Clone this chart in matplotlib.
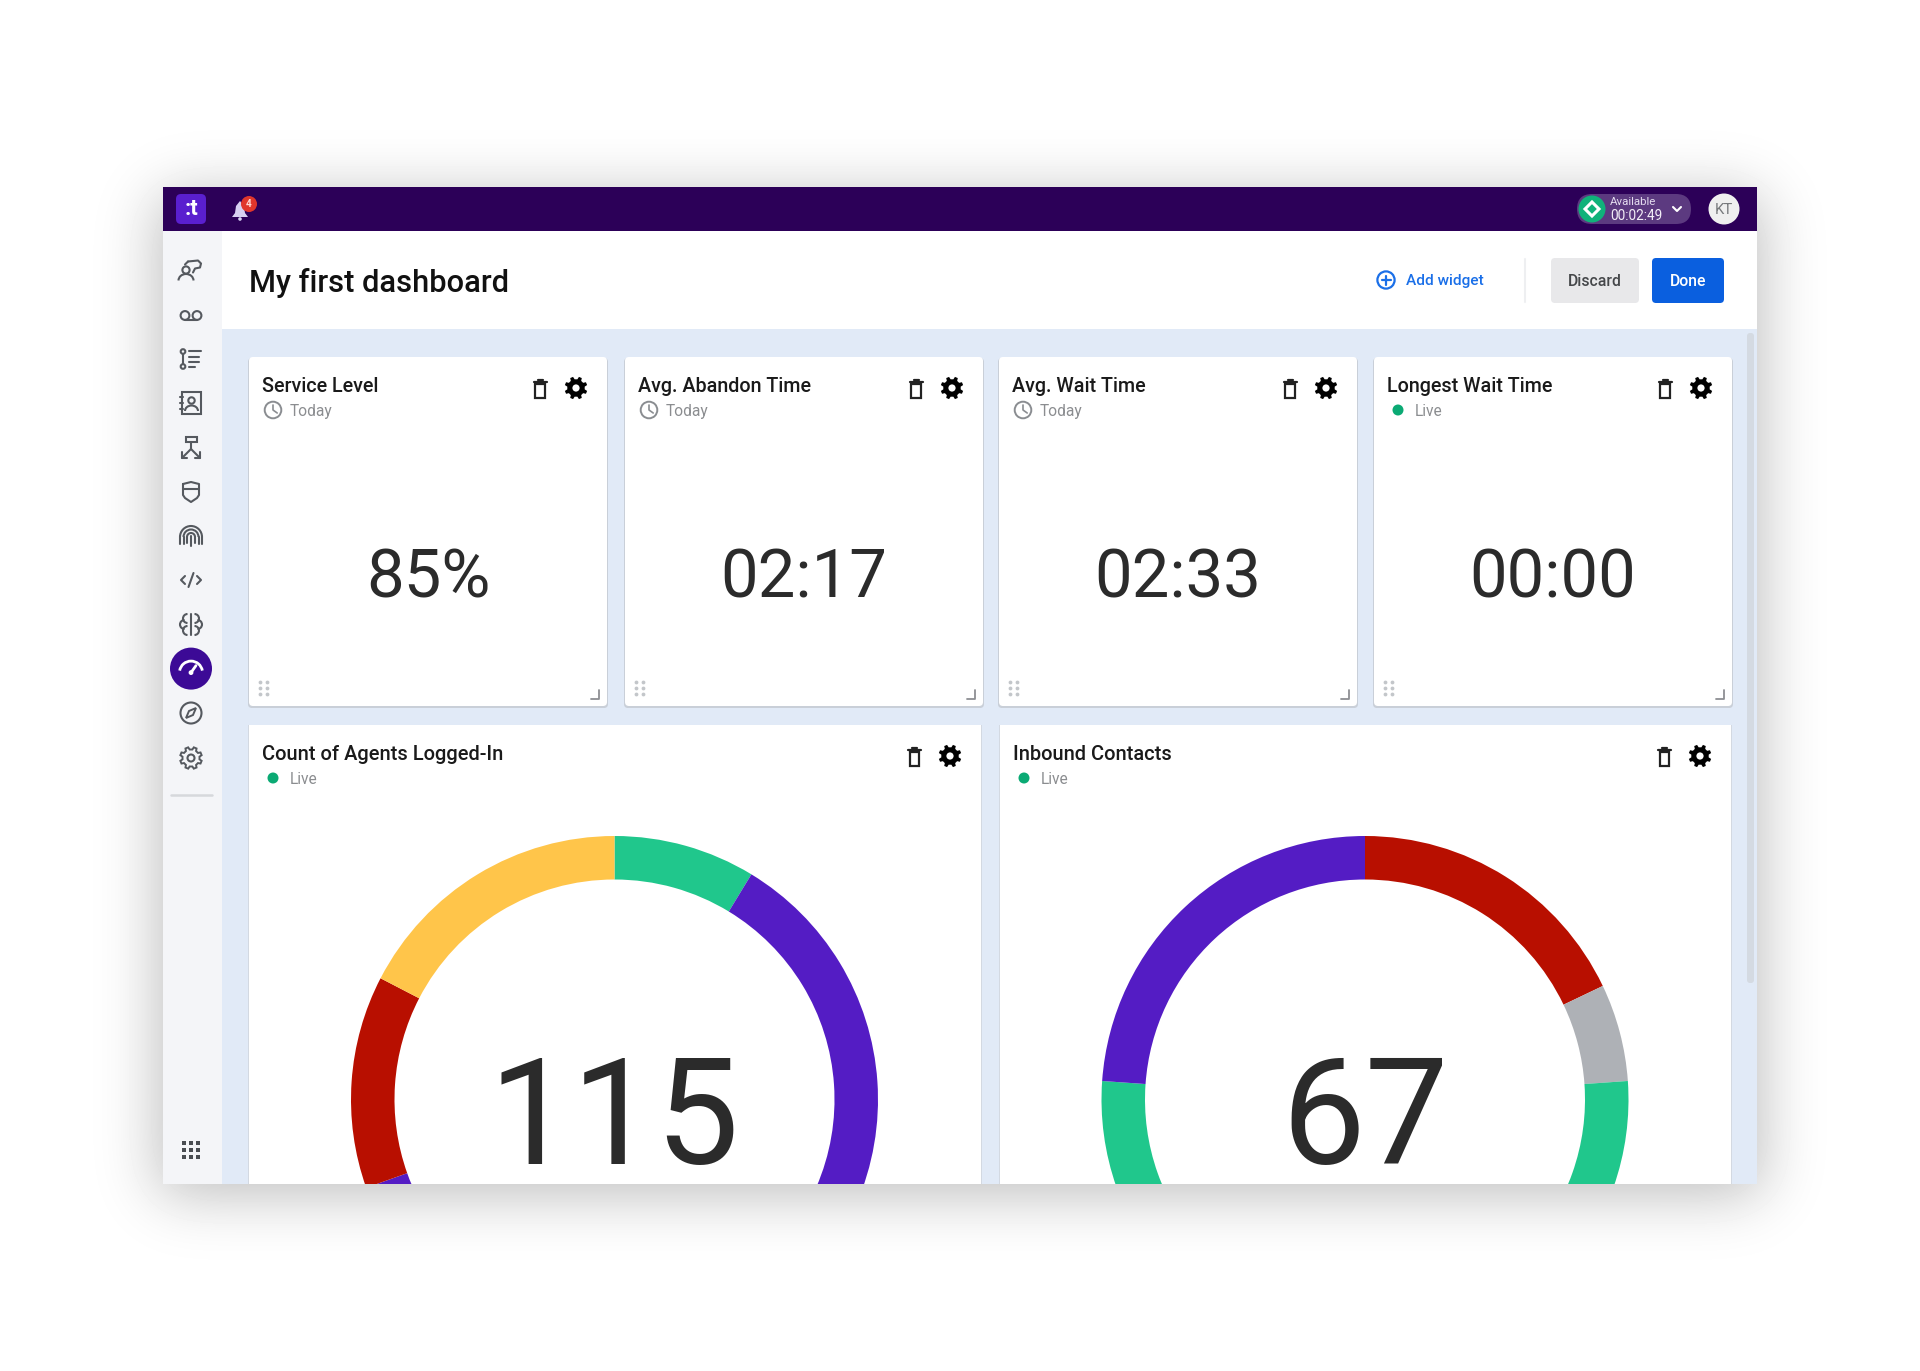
import math
import numpy as np
import matplotlib
matplotlib.use("Agg")
import matplotlib.pyplot as plt
from matplotlib.patches import FancyBboxPatch, Rectangle, Circle, Polygon, Arc

plt.rcParams['font.family'] = ['Roboto', 'DejaVu Sans']

# ---------- data ----------
page_title = "My first dashboard"
kpi_titles = ["Service Level", "Avg. Abandon Time", "Avg. Wait Time", "Longest Wait Time"]
kpi_periods = ["Today", "Today", "Today", "Live"]
kpi_values = ["85%", "02:17", "02:33", "00:00"]

agents_title = "Count of Agents Logged-In"
agents_total = "115"
agents_values = [10, 70, 15, 20]
agents_colors = ["#20C78C", "#541CC4", "#B80F00", "#FFC54A"]

contacts_title = "Inbound Contacts"
contacts_total = "67"
contacts_values = [12, 4, 35, 16]
contacts_colors = ["#B80F00", "#AEB1B6", "#20C78C", "#541CC4"]

W, H = 1920, 1371
fig = plt.figure(figsize=(W / 100, H / 100), dpi=100, facecolor="white")
ax = fig.add_axes([0, 0, 1, 1])
ax.set_xlim(0, W)
ax.set_ylim(H, 0)
ax.axis("off")


def rect(x0, y0, x1, y1, color, z=1, r=0, **kw):
    if r:
        p = FancyBboxPatch((x0, y0), x1 - x0, y1 - y0, boxstyle=f"round,pad=0,rounding_size={r}",
                           fc=color, ec="none", zorder=z, **kw)
    else:
        p = Rectangle((x0, y0), x1 - x0, y1 - y0, fc=color, ec="none", zorder=z, **kw)
    ax.add_patch(p)
    return p


def line(xs, ys, color="#55595f", lw=1.5, z=6):
    ax.plot(xs, ys, color=color, lw=lw, zorder=z, solid_capstyle="round", solid_joinstyle="round")


def ring(x, y, r, color="#55595f", lw=1.5, z=6, fc="none"):
    ax.add_patch(Circle((x, y), r, fc=fc, ec=color, lw=lw, zorder=z))


def txt(x, y, s, size, color="#111111", weight="normal", ha="left", va="center", z=7):
    ax.text(x, y, s, fontsize=size * 0.72, color=color, fontweight=weight, ha=ha, va=va, zorder=z)


def gear_pts(x, y, ro, ri, teeth=8, rot=22.5):
    pts = []
    step = 360 / teeth
    for i in range(teeth):
        a = rot + i * step
        for da, r in [(-0.30, ri), (-0.17, ro), (0.17, ro), (0.30, ri)]:
            t = math.radians(a + da * step)
            pts.append((x + r * math.cos(t), y + r * math.sin(t)))
    return pts


def gear(x, y):
    ax.add_patch(Polygon(gear_pts(x, y, 11.5, 8.8), closed=True, fc="black", ec="none", zorder=6))
    ax.add_patch(Circle((x, y), 3.6, fc="white", ec="none", zorder=7))


def trash(x, y):
    ax.add_patch(Rectangle((x - 4.6, y - 5), 9.2, 13.5, fc="none", ec="#222222", lw=1.6, zorder=6))
    line([x - 6.5, x + 6.5], [y - 6.8, y - 6.8], "#222222", 1.6)
    line([x - 2.5, x + 2.5], [y - 8.8, y - 8.8], "#222222", 1.6)


def drag_dots(x, y):
    for dx in (-3.5, 3.5):
        for dy in (-6, 0, 6):
            ax.add_patch(Circle((x + dx, y + dy), 1.9, fc="#c3c6ca", ec="none", zorder=6))


def resize(x, y):
    line([x - 8, x, x], [y, y, y - 9], "#8d8f93", 1.3)


def status(x, y, period, text_x):
    if period == "Live":
        ax.add_patch(Circle((x, y), 5.5, fc="#0BAA74", ec="none", zorder=6))
    else:
        ring(x, y, 8.3, "#8a8d91", 1.4)
        line([x, x, x + 4.2], [y - 5, y, y + 3], "#8a8d91", 1.2)
    txt(text_x, y + 1.5, period, 15.5, "#8b8d90")


# ---------- window shadow ----------
erf = np.vectorize(math.erf)
xs = np.arange(W) + 0.5
ys = np.arange(H) + 0.5
sig = 30.0
sx = 0.5 * (erf((xs - 158) / (sig * 2 ** 0.5)) - erf((xs - 1762) / (sig * 2 ** 0.5)))
sy = 0.5 * (erf((ys - 195) / (sig * 2 ** 0.5)) - erf((ys - 1195) / (sig * 2 ** 0.5)))
shade = 1 - 0.26 * np.outer(sy, sx)
ax.imshow(shade, cmap="gray", vmin=0, vmax=1, extent=(0, W, H, 0), zorder=0, aspect="auto",
          interpolation="bilinear")
ax.set_xlim(0, W)
ax.set_ylim(H, 0)

# ---------- window frame ----------
rect(162.5, 187, 1757, 1184, "#E1EAF7", z=1)
rect(162.5, 231, 222, 1184, "#F4F5F8", z=2)
rect(222, 231, 1757, 329, "white", z=2)
rect(162.5, 187, 1757, 231, "#2C0058", z=3)
rect(1747, 333, 1754, 983, "#D4DAE2", z=2, r=3)

# ---------- top bar ----------
rect(176, 194, 206, 224, "#5A1FCF", z=4, r=5)
txt(191, 209, ":t", 22, "white", "bold", ha="center")
ax.add_patch(Polygon([(232, 217), (235, 213), (236, 206), (240, 201), (244, 206), (245, 213), (248, 217)],
                     closed=True, fc="#D8D0F2", ec="none", zorder=5))
ax.add_patch(Circle((240, 219), 1.8, fc="#D8D0F2", ec="none", zorder=5))
ax.add_patch(Circle((249, 204), 8, fc="#E0362C", ec="none", zorder=6))
txt(249, 204, "4", 10, "#ffd9d6", "bold", ha="center")

rect(1577, 194, 1691, 224, "#5C3A80", z=4, r=15)
ax.add_patch(Circle((1592, 209), 13.5, fc="#10B27A", ec="none", zorder=5))
ax.add_patch(Polygon([(1592, 202), (1599, 209), (1592, 216), (1585, 209)], closed=True,
                     fc="none", ec="white", lw=2.2, zorder=6))
txt(1610, 202, "Available", 11.5, "#E4DCEF")
txt(1610, 216, "00:02:49", 13.6, "#F2EEF7")
line([1673, 1677, 1681], [207, 211, 207], "white", 1.5)
ax.add_patch(Circle((1724, 209), 15.5, fc="#EFEFEF", ec="none", zorder=5))
txt(1724, 209.5, "KT", 15, "#77797c", ha="center")

# ---------- header ----------
txt(249, 282.5, page_title, 30.8, "#111111", "medium")
ring(1386, 280, 8.6, "#1A6FE8", 1.6)
line([1381.5, 1390.5], [280, 280], "#1A6FE8", 1.6)
line([1386, 1386], [275.5, 284.5], "#1A6FE8", 1.6)
txt(1406, 281, "Add widget", 15.4, "#1A6FE8", "medium")
line([1525, 1525], [259, 302], "#EEEFF1", 1.5)
rect(1551, 258, 1639, 303, "#E8E8EA", z=4, r=4)
txt(1595, 281, "Discard", 15.8, "#45474A", "medium", ha="center")
rect(1652, 258, 1724, 303, "#0A5FDF", z=4, r=4)
txt(1688, 281, "Done", 15.8, "white", "medium", ha="center")

# ---------- sidebar icons ----------
c = "#55595f"
cx = 191
# agent with bubble
y = 269.5
ring(cx - 5, y + 0.5, 3.6, c)
ax.add_patch(Arc((cx - 5, y + 11), 15, 13, theta1=180, theta2=360, ec=c, lw=1.5, zorder=6))
line([cx - 3, cx + 7, cx + 10, cx + 9, cx + 4, cx + 2], [y - 8, y - 9, y - 6, y - 2, y - 1, y + 3], c)
line([cx - 3, cx - 6], [y - 8, y - 5], c)
# voicemail
y = 315.5
ring(cx - 6, y, 4.4, c)
ring(cx + 6, y, 4.4, c)
line([cx - 6, cx + 6], [y + 4.4, y + 4.4], c)
# list
y = 359
ring(cx - 8, y - 7.5, 2.3, c)
ring(cx - 8, y + 7.5, 2.3, c)
line([cx - 8, cx - 8], [y - 5, y + 5], c)
line([cx - 2, cx + 10], [y - 8, y - 8], c)
line([cx - 2, cx + 8], [y - 2.5, y - 2.5], c)
line([cx - 2, cx + 8], [y + 3, y + 3], c)
line([cx - 2, cx + 4], [y + 8, y + 8], c)
# contact book
y = 403
ax.add_patch(Rectangle((cx - 9, y - 11), 19, 22, fc="none", ec=c, lw=1.5, zorder=6))
ring(cx + 0.5, y - 2.5, 3.2, c)
ax.add_patch(Arc((cx + 0.5, y + 8), 13, 11, theta1=180, theta2=360, ec=c, lw=1.5, zorder=6))
for d in (-6, 0, 6):
    line([cx - 11, cx - 8], [y + d, y + d], c)
# flow
y = 448
ax.add_patch(Rectangle((cx - 5.5, y - 11), 11, 5, fc="none", ec=c, lw=1.5, zorder=6))
line([cx, cx], [y - 6, y + 1], c)
line([cx - 9, cx, cx + 9], [y + 10, y + 1, y + 10], c)
line([cx - 9, cx - 9, cx - 4], [y + 4, y + 10, y + 10], c)
line([cx + 9, cx + 9, cx + 4], [y + 4, y + 10, y + 10], c)
# shield
y = 492
line([cx - 8, cx, cx + 8, cx + 8, cx + 6, cx, cx - 6, cx - 8, cx - 8],
     [y - 8, y - 10, y - 8, y + 3, y + 6, y + 10, y + 6, y + 3, y - 8], c)
line([cx - 8, cx + 8], [y - 3, y - 3], c)
# fingerprint
y = 536
for r in (11, 7.5, 4):
    ax.add_patch(Arc((cx, y + 1), 2 * r, 2 * r, theta1=180, theta2=360, ec=c, lw=1.5, zorder=6))
    line([cx - r, cx - r], [y + 1, y + 8 - (11 - r) * 0.1], c)
    line([cx + r, cx + r], [y + 1, y + 8 - (11 - r) * 0.1], c)
line([cx, cx], [y, y + 10], c)
# code
y = 580
line([cx - 6, cx - 10, cx - 6], [y - 4, y, y + 4], c)
line([cx + 6, cx + 10, cx + 6], [y - 4, y, y + 4], c)
line([cx - 2.5, cx + 2.5], [y + 7, y - 7], c)
# brain
y = 624.5
for sgn in (-1, 1):
    for dy, off in ((-6, 3.5), (0, 6.5), (6, 3.5)):
        ax.add_patch(Arc((cx + sgn * off, y + dy), 9, 9, theta1=-90 if sgn > 0 else 90,
                         theta2=90 if sgn > 0 else 270, ec=c, lw=1.5, zorder=6))
line([cx, cx], [y - 10.5, y + 10.5], c)
# selected gauge
y = 668.6
ax.add_patch(Circle((cx, y), 21, fc="#3C0A96", ec="none", zorder=5))
ax.add_patch(Arc((cx, y + 4), 23, 23, theta1=190, theta2=350, ec="white", lw=2, zorder=6))
line([cx, cx + 5], [y + 4, y - 3], "white", 2)
ax.add_patch(Circle((cx, y + 4), 2.4, fc="white", ec="none", zorder=6))
# compass
y = 713
ring(cx, y, 10.5, c)
ax.add_patch(Polygon([(cx + 5, y - 5), (cx + 2, y + 2), (cx - 5, y + 5), (cx - 2, y - 2)],
                     closed=True, fc="none", ec=c, lw=1.4, zorder=6))
# settings
y = 758
ax.add_patch(Polygon(gear_pts(cx, y, 11, 8.6), closed=True, fc="none", ec=c, lw=1.4, zorder=6))
ring(cx, y, 3.5, c)
# separator
line([171, 212], [795, 795], "#D6D8DC", 1.8)
# app grid
for dx in (-7, 0, 7):
    for dy in (-7, 0, 7):
        ax.add_patch(Rectangle((cx + dx - 2.2, 1150 + dy - 2.2), 4.4, 4.4, fc="#4a4d52", ec="none", zorder=6))

# ---------- KPI cards ----------
kpi_left = [249, 625, 999, 1374]
kpi_width = 358
for left, title, period, value in zip(kpi_left, kpi_titles, kpi_periods, kpi_values):
    rect(left - 1, 358, left + kpi_width + 1, 708, "#C9CFD8", z=3, r=4)
    rect(left, 357, left + kpi_width, 706, "white", z=4, r=4)
    txt(left + 13, 387, title, 19.8, "#1a1a1a", "medium")
    status(left + 24, 410, period, left + 41)
    trash(left + 291, 389)
    gear(left + 327, 388)
    drag_dots(left + 15, 688.5)
    resize(left + 350, 698.5)
    txt(left + kpi_width / 2, 579, value, 67, "#2b2b2b", ha="center")

# ---------- lower cards ----------
lower = [
    (249, 981, 614.5, agents_title, agents_total, agents_values, agents_colors),
    (1000, 1731, 1365, contacts_title, contacts_total, contacts_values, contacts_colors),
]
R, INNER, CY, BOTTOM, TOP = 263.5, 220.0, 1099.5, 1184, 725
for left, right, ccx, title, total, vals, cols in lower:
    rect(left - 1, TOP, right + 1, BOTTOM, "#D3D9E2", z=3, r=0)
    rect(left, TOP, right, BOTTOM, "white", z=4, r=0)
    txt(left + 13, 755, title, 20, "#1a1a1a", "medium")
    status(left + 24, 778, "Live", left + 40.5)
    trash(right - 66.5, 757)
    gear(right - 31, 756)

    dax = fig.add_axes([left / W, 1 - BOTTOM / H, (right - left) / W, (BOTTOM - TOP) / H], zorder=5)
    wedges, _ = dax.pie(vals, colors=cols, startangle=90, counterclock=False, radius=1.0,
                        wedgeprops=dict(width=1 - INNER / R, linewidth=0))
    dax.set_aspect("auto")
    dax.set_xlim((left - ccx) / R, (right - ccx) / R)
    dax.set_ylim((CY - BOTTOM) / R, (CY - TOP) / R)
    dax.patch.set_alpha(0)
    dax.axis("off")
    for w in wedges:
        w.set_clip_on(True)
        w.set_clip_path(dax.patch)
    dax.text(0, (CY - 1164) / R, total, fontsize=149 * 0.72, color="#2b2b2b", ha="center", va="baseline")

fig.savefig("out.png", dpi=100, facecolor="white")
